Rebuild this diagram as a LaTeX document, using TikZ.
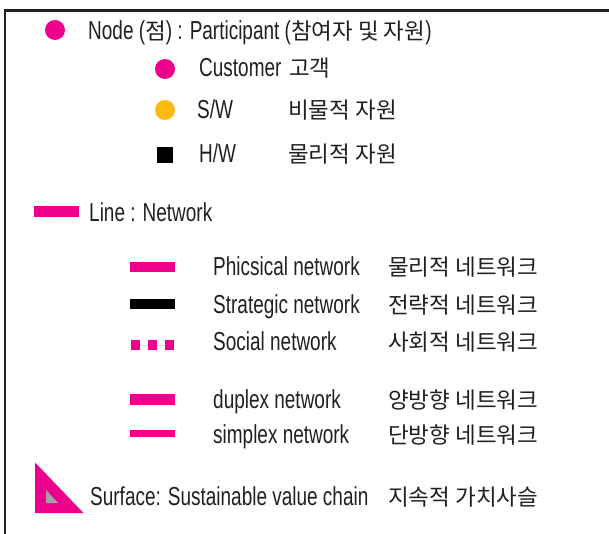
\documentclass[tikz,border=0pt]{standalone}
\usepackage{fontspec}
\setmainfont{Liberation Sans}[FakeStretch=0.73]
\newfontfamily\krfont{Noto Sans CJK KR}
\newcommand\krtext[1]{{\krfont\fontsize{22.5}{25}\selectfont #1}}
\definecolor{magentaM}{HTML}{EC008C}
\definecolor{swyellow}{HTML}{FDBA12}
\definecolor{ink}{HTML}{231F20}
\definecolor{innergray}{HTML}{A3A3A3}
\definecolor{thinlink}{HTML}{C8E8F2}
\begin{document}
\begin{tikzpicture}[x=1pt,y=-1pt,
  lbl/.style={anchor=base west,inner sep=0pt,text=ink,font=\fontsize{26}{28}\selectfont},
  krlbl/.style={anchor=base west,inner sep=0pt,text=ink,font=\krfont\fontsize{22.5}{25}\selectfont},
  dot/.style={circle,inner sep=0pt,minimum size=20pt},
  bar/.style={rectangle,inner sep=0pt,minimum width=45pt}]
\useasboundingbox (0,0) rectangle (609,534);
% frame
\draw[ink,line width=2.2pt] (5,534) -- (5,10.5) -- (609,10.5);

% nodes
\node[dot,fill=magentaM] (nodeDot) at (55,30) {};
\node[lbl] (nodeTxt) at (88,39.5) {Node (\krtext{점}) : Participant (\krtext{참여자 및 자원})};

\node[dot,fill=magentaM] (custDot) at (165,69) {};
\node[lbl] (custTxt) at (199,77) {Customer};
\node[krlbl] (custKr) at (289,77) {고객};

\node[dot,fill=swyellow] (swDot) at (165,110) {};
\node[lbl] (swTxt) at (197,119) {S/W};
\node[krlbl] (swKr) at (288,119) {비물적 자원};

\node[rectangle,fill=black,inner sep=0pt,minimum size=16pt] (hwSq) at (165,155.5) {};
\node[lbl] (hwTxt) at (199,163) {H/W};
\node[krlbl] (hwKr) at (288,163) {물리적 자원};

% lines
\node[bar,fill=magentaM,minimum height=11pt] (lineBar) at (56.5,211.5) {};
\node[lbl] (lineTxt) at (89,222) {Line : Network};

\node[bar,fill=magentaM,minimum height=10pt] (phyBar) at (152,267) {};
\node[lbl] (phyTxt) at (213,275) {Phicsical network};
\node[krlbl] (phyKr) at (388,275) {물리적 네트워크};

\node[bar,fill=black,minimum height=10pt] (strBar) at (152,304) {};
\node[lbl] (strTxt) at (213,313) {Strategic network};
\node[krlbl] (strKr) at (388,313) {전략적 네트워크};

\coordinate (socA) at (130,345);
\coordinate (socB) at (174,345);
\draw[thinlink,line width=0.8pt] (socA) -- (socB);
\foreach \xx/\nm in {135/socSqA,152.5/socSqB,169.5/socSqC}
  \node[rectangle,fill=magentaM,inner sep=0pt,minimum width=9pt,minimum height=10.5pt] (\nm) at (\xx,345) {};
\node[lbl] (socTxt) at (213,350) {Social network};
\node[krlbl] (socKr) at (388,350) {사회적 네트워크};

\node[bar,fill=magentaM,minimum height=11pt] (dupBar) at (152,399) {};
\node[lbl] (dupTxt) at (213,408) {duplex network};
\node[krlbl] (dupKr) at (388,408) {양방향 네트워크};

\node[bar,fill=magentaM,minimum height=7pt] (simBar) at (152,433.5) {};
\node[lbl] (simTxt) at (213,443) {simplex network};
\node[krlbl] (simKr) at (388,443) {단방향 네트워크};

% surface
\fill[magentaM] (35,462.5) -- (35,513) -- (83.5,513) -- cycle;
\fill[innergray] (46,490) -- (46,503) -- (58,503) -- cycle;
\node[lbl] (surTxt) at (90,505) {Surface: Sustainable value chain};
\node[krlbl] (surKr) at (388,505) {지속적 가치사슬};
\end{tikzpicture}
\end{document}
